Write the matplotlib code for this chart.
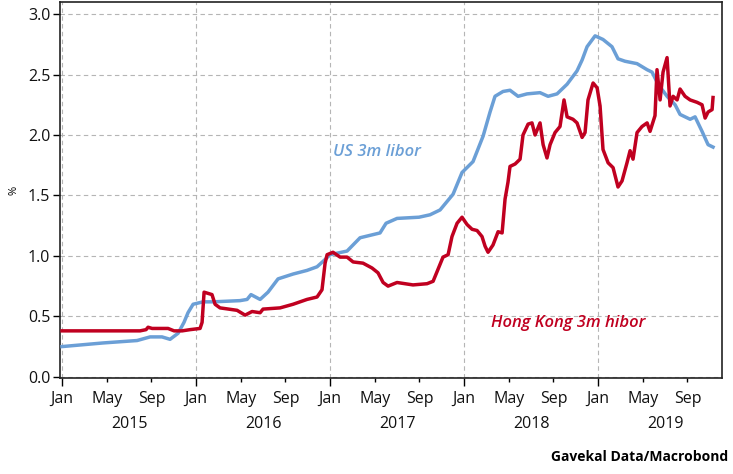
import matplotlib
matplotlib.use('Agg')
import matplotlib.pyplot as plt
import numpy as np

plt.rcParams['font.family'] = ['Open Sans', 'DejaVu Sans']

# decimal years / percent
libor_t = [2015.000, 2015.306, 2015.560, 2015.657, 2015.746, 2015.806, 2015.866, 2015.910,
           2015.940, 2015.978, 2016.052, 2016.127, 2016.328, 2016.381, 2016.410, 2016.478,
           2016.537, 2016.612, 2016.724, 2016.828, 2016.903, 2016.963, 2017.000, 2017.127,
           2017.224, 2017.373, 2017.418, 2017.500, 2017.664, 2017.746, 2017.821, 2017.918,
           2017.985, 2018.067, 2018.142, 2018.194, 2018.231, 2018.291, 2018.343, 2018.403,
           2018.470, 2018.567, 2018.627, 2018.694, 2018.769, 2018.843, 2018.881, 2018.918,
           2018.978, 2019.037, 2019.104, 2019.149, 2019.201, 2019.291, 2019.366, 2019.403,
           2019.448, 2019.515, 2019.575, 2019.612, 2019.687, 2019.724, 2019.776, 2019.821,
           2019.858]
libor = [0.25, 0.28, 0.30, 0.33, 0.33, 0.31, 0.36, 0.45,
         0.53, 0.60, 0.62, 0.62, 0.63, 0.64, 0.68, 0.64,
         0.70, 0.81, 0.85, 0.88, 0.91, 0.97, 1.01, 1.04,
         1.15, 1.19, 1.27, 1.31, 1.32, 1.34, 1.38, 1.51,
         1.69, 1.78, 1.99, 2.19, 2.32, 2.36, 2.37, 2.32,
         2.34, 2.35, 2.32, 2.34, 2.42, 2.53, 2.62, 2.73,
         2.82, 2.79, 2.73, 2.63, 2.61, 2.59, 2.54, 2.52,
         2.42, 2.32, 2.25, 2.17, 2.13, 2.15, 2.03, 1.92,
         1.90]

hibor_t = [2015.000, 2015.284, 2015.582, 2015.627, 2015.642, 2015.672, 2015.791, 2015.836,
           2015.896, 2015.955, 2016.030, 2016.045, 2016.060, 2016.119, 2016.142, 2016.179,
           2016.306, 2016.366, 2016.418, 2016.478, 2016.500, 2016.627, 2016.724, 2016.828,
           2016.903, 2016.940, 2016.963, 2016.978, 2017.022, 2017.075, 2017.127, 2017.172,
           2017.246, 2017.313, 2017.358, 2017.396, 2017.433, 2017.500, 2017.619, 2017.724,
           2017.769, 2017.806, 2017.843, 2017.881, 2017.910, 2017.948, 2017.985, 2018.022,
           2018.060, 2018.097, 2018.134, 2018.157, 2018.179, 2018.216, 2018.254, 2018.284,
           2018.306, 2018.328, 2018.343, 2018.381, 2018.418, 2018.440, 2018.478, 2018.507,
           2018.530, 2018.567, 2018.590, 2018.619, 2018.642, 2018.679, 2018.716, 2018.746,
           2018.769, 2018.813, 2018.843, 2018.881, 2018.903, 2018.925, 2018.963, 2018.993,
           2019.015, 2019.037, 2019.075, 2019.112, 2019.149, 2019.179, 2019.216, 2019.239,
           2019.261, 2019.291, 2019.328, 2019.366, 2019.388, 2019.425, 2019.440, 2019.463,
           2019.485, 2019.515, 2019.537, 2019.560, 2019.590, 2019.612, 2019.649, 2019.687,
           2019.739, 2019.776, 2019.799, 2019.821, 2019.851, 2019.858]
hibor = [0.38, 0.38, 0.38, 0.39, 0.41, 0.40, 0.40, 0.38,
         0.38, 0.39, 0.40, 0.45, 0.70, 0.68, 0.60, 0.57,
         0.55, 0.51, 0.54, 0.53, 0.56, 0.57, 0.60, 0.64,
         0.66, 0.72, 0.94, 1.01, 1.03, 0.99, 0.99, 0.95,
         0.94, 0.90, 0.86, 0.78, 0.75, 0.78, 0.76, 0.77,
         0.79, 0.89, 0.99, 1.01, 1.16, 1.27, 1.32, 1.26,
         1.22, 1.21, 1.16, 1.08, 1.03, 1.09, 1.20, 1.19,
         1.47, 1.61, 1.74, 1.76, 1.80, 2.00, 2.09, 2.10,
         2.00, 2.10, 1.92, 1.81, 1.92, 2.02, 2.07, 2.29,
         2.15, 2.13, 2.10, 1.98, 2.02, 2.29, 2.43, 2.39,
         2.24, 1.88, 1.77, 1.73, 1.57, 1.62, 1.77, 1.87,
         1.80, 2.02, 2.07, 2.10, 2.03, 2.16, 2.54, 2.29,
         2.52, 2.64, 2.24, 2.32, 2.29, 2.38, 2.32, 2.29,
         2.27, 2.25, 2.14, 2.19, 2.21, 2.31]

years = [2015, 2016, 2017, 2018, 2019]
month_names = ['Jan', 'May', 'Sep']
month_offsets = [0, 4, 8]
yticks = [0.0, 0.5, 1.0, 1.5, 2.0, 2.5, 3.0]

blue = '#6b9fd6'
red = '#c00020'

fig = plt.figure(figsize=(7.33, 4.74), dpi=100)
ax = fig.add_axes([0.0819, 0.2025, 0.9031, 0.7933])

ax.plot(libor_t, libor, color=blue, lw=2.5, solid_joinstyle='round', zorder=3)
ax.plot(hibor_t, hibor, color=red, lw=2.5, solid_joinstyle='round', zorder=4)

ax.set_xlim(2014.985, 2019.925)
ax.set_ylim(-0.01, 3.1)

major = [y for y in years]
minor = [y + m / 12 for y in years for m in month_offsets[1:]]
ax.set_xticks(major)
ax.set_xticks(minor, minor=True)
ax.set_xticklabels([month_names[0]] * len(major))
ax.set_xticklabels([month_names[1 + i % 2] for i in range(len(minor))], minor=True)
ax.tick_params(axis='x', which='major', length=6, width=1, labelsize=11.5, pad=3,
               labelcolor='#111111')
ax.tick_params(axis='x', which='minor', length=3, width=1, labelsize=11.5, pad=6,
               labelcolor='#111111')

ax.set_yticks(yticks)
ax.set_yticklabels([f'{v:.1f}' for v in yticks])
ax.tick_params(axis='y', length=5, width=1, labelsize=11.5, pad=2, labelcolor='#111111')

for y in years:
    ax.text(y + 0.5, -0.10, str(y), transform=ax.get_xaxis_transform(),
            ha='center', va='top', fontsize=11.5, color='#111111')

ax.grid(True, which='major', axis='both', color='#b5b5b5', ls=(0, (4, 3)), lw=0.8)
ax.set_axisbelow(True)
for s in ax.spines.values():
    s.set_linewidth(1.2)
    s.set_color('#222222')

ax.set_ylabel('%', fontsize=8, labelpad=6)

ax.text(2017.02, 1.83, 'US 3m libor', color=blue, fontsize=12, style='italic',
        fontweight='semibold')
ax.text(2018.2, 0.41, 'Hong Kong 3m hibor', color=red, fontsize=12, style='italic',
        fontweight='semibold')

fig.text(0.994, 0.022, 'Gavekal Data/Macrobond', ha='right', va='bottom',
         fontsize=10, fontweight='bold')

fig.savefig('out.png', dpi=100)
